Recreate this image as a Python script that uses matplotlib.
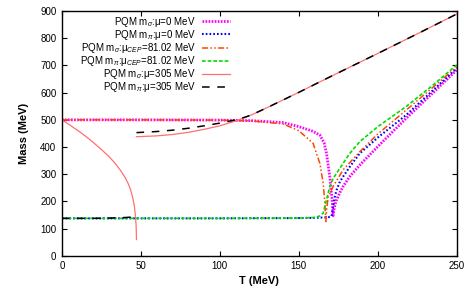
import matplotlib
matplotlib.use('Agg')
from matplotlib import pyplot as plt

plt.rcParams['font.family'] = ['Liberation Sans', 'DejaVu Sans']
plt.rcParams['mathtext.fontset'] = 'custom'
plt.rcParams['mathtext.rm'] = 'Liberation Sans'
plt.rcParams['mathtext.it'] = 'Liberation Sans:italic'

# sigma mass, mu = 0
T_s0 = [0, 50, 100, 120, 140, 150, 158, 163.3, 166, 167.5, 169.6, 171, 171.7,
        172.2, 173, 173.9, 176, 178, 182, 188.6, 200, 218, 235, 250]
M_s0 = [500, 500, 499, 497, 490, 475, 460, 444, 415, 377, 291, 210, 148,
        168, 190, 206, 233, 255, 290, 334, 402, 506, 600, 683]

# pion mass, mu = 0
T_p0 = [0, 100, 150, 160, 165, 168.6, 170.7, 171.7, 172.8, 173.9, 176, 178,
        182.3, 188.6, 200, 218, 235, 250]
M_p0 = [138, 138, 139, 140, 141, 142, 146, 181, 218, 242, 273, 291,
        328, 377, 435, 518, 609, 690]

# sigma mass, mu_CEP = 81.02
T_sc = [0, 50, 100, 120, 140, 150, 159, 163.3, 165.4, 166.5, 167.1, 167.6,
        168.6, 171.7, 178, 188.6, 200, 218, 235, 250]
M_sc = [500, 500, 499, 496, 485, 460, 414, 340, 267, 194, 126, 170,
        218, 255, 316, 383, 448, 536, 620, 695]

# pion mass, mu_CEP = 81.02
T_pc = [0, 100, 150, 160, 163, 165.4, 167.5, 169.6, 171.7, 173.9, 176, 182,
        188.6, 200, 218, 235, 250]
M_pc = [138, 138, 139, 141, 146, 157, 206, 255, 285, 304, 322, 375,
        420, 475, 549, 628, 702]

# sigma mass, mu = 305 (two branches)
T_s3a = [0, 5, 10, 15, 20, 25, 30, 34, 37, 40, 42, 43.5, 44.8, 45.8, 46.5,
         47, 47.2]
M_s3a = [500, 481, 461, 440, 416, 391, 364, 338, 315, 288, 265, 243, 215,
         185, 150, 110, 60]
T_s3b = [47.2, 60, 70, 80, 90, 100, 110, 120, 130, 140, 150, 160, 175, 200,
         225, 250]
M_s3b = [438, 441, 446, 454, 465, 478, 496, 518, 545, 573, 601, 630, 673,
         744, 816, 889]

# pion mass, mu = 305 (two branches)
T_p3a = [0, 20, 30, 40, 45, 47.2]
M_p3a = [138, 138, 139, 141, 143, 145]
T_p3b = [47.2, 60, 70, 80, 90, 100, 110, 115, 120, 130, 140, 150, 160, 175,
         200, 225, 250]
M_p3b = [453, 457, 462, 469, 478, 488, 500, 508, 518, 545, 573, 601, 630,
         673, 744, 816, 889]

fig = plt.figure(figsize=(4.69, 3.05), dpi=100)
ax = fig.add_axes([0.132, 0.161, 0.842, 0.803])

ax.plot(T_s0, M_s0, color='#ff00ff', lw=2.0, ls=(0, (0.6, 0.5)),
        label=r'PQM m$_\sigma$:μ=0 MeV')
ax.plot(T_p0, M_p0, color='#0000ff', lw=1.5, ls=(0, (0.8, 1.0)),
        label=r'PQM m$_\pi$:μ=0 MeV')
ax.plot(T_sc, M_sc, color='#ff4500', lw=1.1, ls=(0, (4, 1.5, 1, 1.5, 1, 1.5)),
        label=r'PQM m$_\sigma$:μ$_{CEP}$=81.02 MeV')
ax.plot(T_pc, M_pc, color='#00dd00', lw=1.2, ls=(0, (2.2, 1.2)),
        label=r'PQM m$_\pi$:μ$_{CEP}$=81.02 MeV')
ax.plot(T_s3a, M_s3a, color='#ff7070', lw=0.9, label=r'PQM m$_\sigma$:μ=305 MeV')
ax.plot(T_s3b, M_s3b, color='#ff7070', lw=0.9)
ax.plot(T_p3a, M_p3a, color='black', lw=1.1, ls=(0, (5, 5)),
        label=r'PQM m$_\pi$:μ=305 MeV')
ax.plot(T_p3b, M_p3b, color='black', lw=1.1, ls=(0, (5, 5)))

ax.set_xlim(0, 250)
ax.set_ylim(0, 900)
ax.set_xticks([0, 50, 100, 150, 200, 250])
ax.set_yticks(range(0, 901, 100))
ax.tick_params(direction='in', top=True, right=True, length=3.5, width=0.8,
               labelsize=7, pad=4)
for s in ax.spines.values():
    s.set_linewidth(1.0)

ax.set_xlabel('T (MeV)', fontsize=8, fontweight='bold', labelpad=3)
ax.set_ylabel('Mass (MeV)', fontsize=8, fontweight='bold', labelpad=8)

ax.legend(loc='upper right', bbox_to_anchor=(0.435, 1.0), frameon=False,
          markerfirst=False, fontsize=7, handlelength=2.9, handletextpad=0.6,
          labelspacing=-0.1, borderaxespad=0.2, borderpad=0.2)

fig.savefig('out.png', dpi=100)
